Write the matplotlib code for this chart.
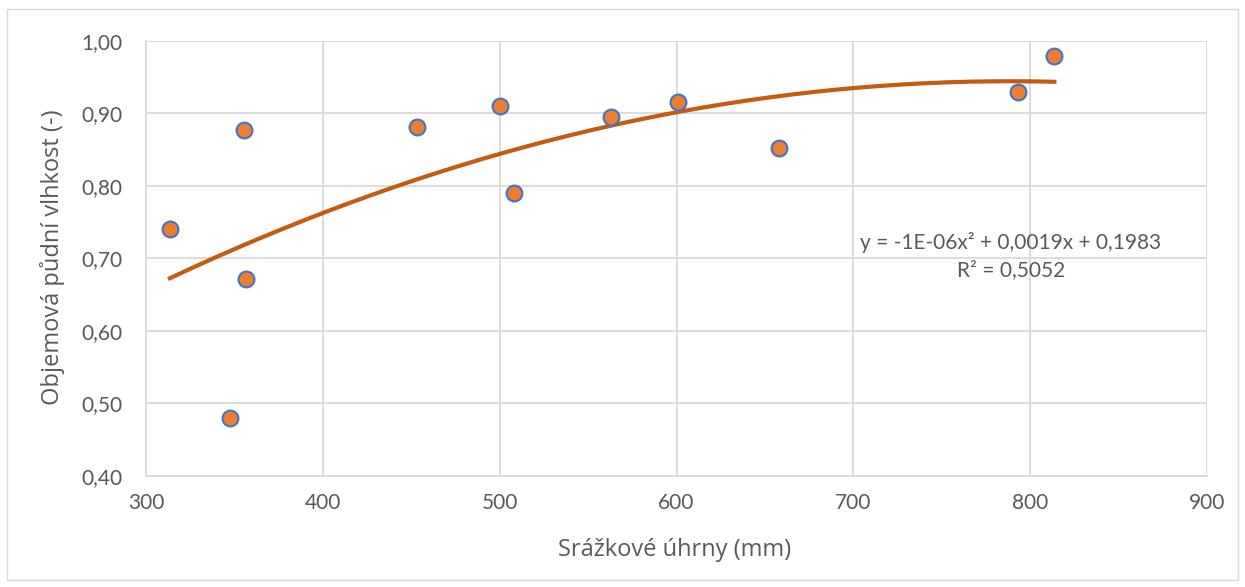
import numpy as np
import matplotlib.pyplot as plt
from matplotlib.patches import Rectangle
from matplotlib.ticker import FuncFormatter

# srážky (mm) vs objemová vlhkost
srazky = [313.5, 347.4, 355.3, 356.4, 453.4, 500.2, 508.1, 562.8, 601.1, 658.1, 792.9, 813.7]
vlhkost = [0.740, 0.480, 0.877, 0.672, 0.881, 0.910, 0.791, 0.895, 0.916, 0.852, 0.929, 0.979]

x_ticks = [300, 400, 500, 600, 700, 800, 900]
y_ticks = [0.40, 0.50, 0.60, 0.70, 0.80, 0.90, 1.00]

eq_text = "y = -1E-06x² + 0,0019x + 0,1983"
r2_text = "R² = 0,5052"

plt.rcParams["font.family"] = ["Lato", "DejaVu Sans"]

grey = "#595959"
grid_c = "#D9D9D9"

fig = plt.figure(figsize=(12.45, 5.87), dpi=100)
fig.patches.append(Rectangle((0.006, 0.012), 0.988, 0.972, transform=fig.transFigure,
                             fill=False, edgecolor=grid_c, linewidth=1))
ax = fig.add_axes([0.1173, 0.1891, 0.8522, 0.7411])

# polynomiální trend (2. stupeň) jako v Excelu
coef = np.polyfit(srazky, vlhkost, 2)
xs = np.linspace(min(srazky), max(srazky), 200)
ax.plot(xs, np.polyval(coef, xs), color="#C55A11", linewidth=3, zorder=2)

ax.scatter(srazky, vlhkost, s=130, color="#ED7D31", edgecolor="#4472C4",
           linewidth=1.5, zorder=3)

ax.set_xlim(300, 900)
ax.set_ylim(0.40, 1.00)
ax.set_xticks(x_ticks)
ax.set_yticks(y_ticks)
ax.yaxis.set_major_formatter(FuncFormatter(lambda v, p: f"{v:.2f}".replace(".", ",")))
ax.grid(True, color=grid_c, linewidth=1.3)
ax.set_axisbelow(True)
for side in ["top", "right"]:
    ax.spines[side].set_visible(False)
for side in ["left", "bottom"]:
    ax.spines[side].set_color(grid_c)
    ax.spines[side].set_linewidth(1.3)
ax.tick_params(length=0, labelsize=15, colors=grey)
ax.tick_params(axis="x", pad=12)
ax.tick_params(axis="y", pad=17)

fig.text(0.542, 0.063, "Srážkové úhrny (mm)", ha="center", va="center",
         fontsize=17, color=grey, family=["Open Sans", "DejaVu Sans"])
fig.text(0.0418, 0.562, "Objemová půdní vlhkost (-)", ha="center", va="center",
         rotation=90, fontsize=17, color=grey, family=["Open Sans", "DejaVu Sans"])

ax.text(0.815, 0.536, eq_text, transform=ax.transAxes, ha="center", va="center",
        fontsize=15, color=grey)
ax.text(0.815, 0.474, r2_text, transform=ax.transAxes, ha="center", va="center",
        fontsize=15, color=grey)

fig.savefig("out.png", dpi=100)
